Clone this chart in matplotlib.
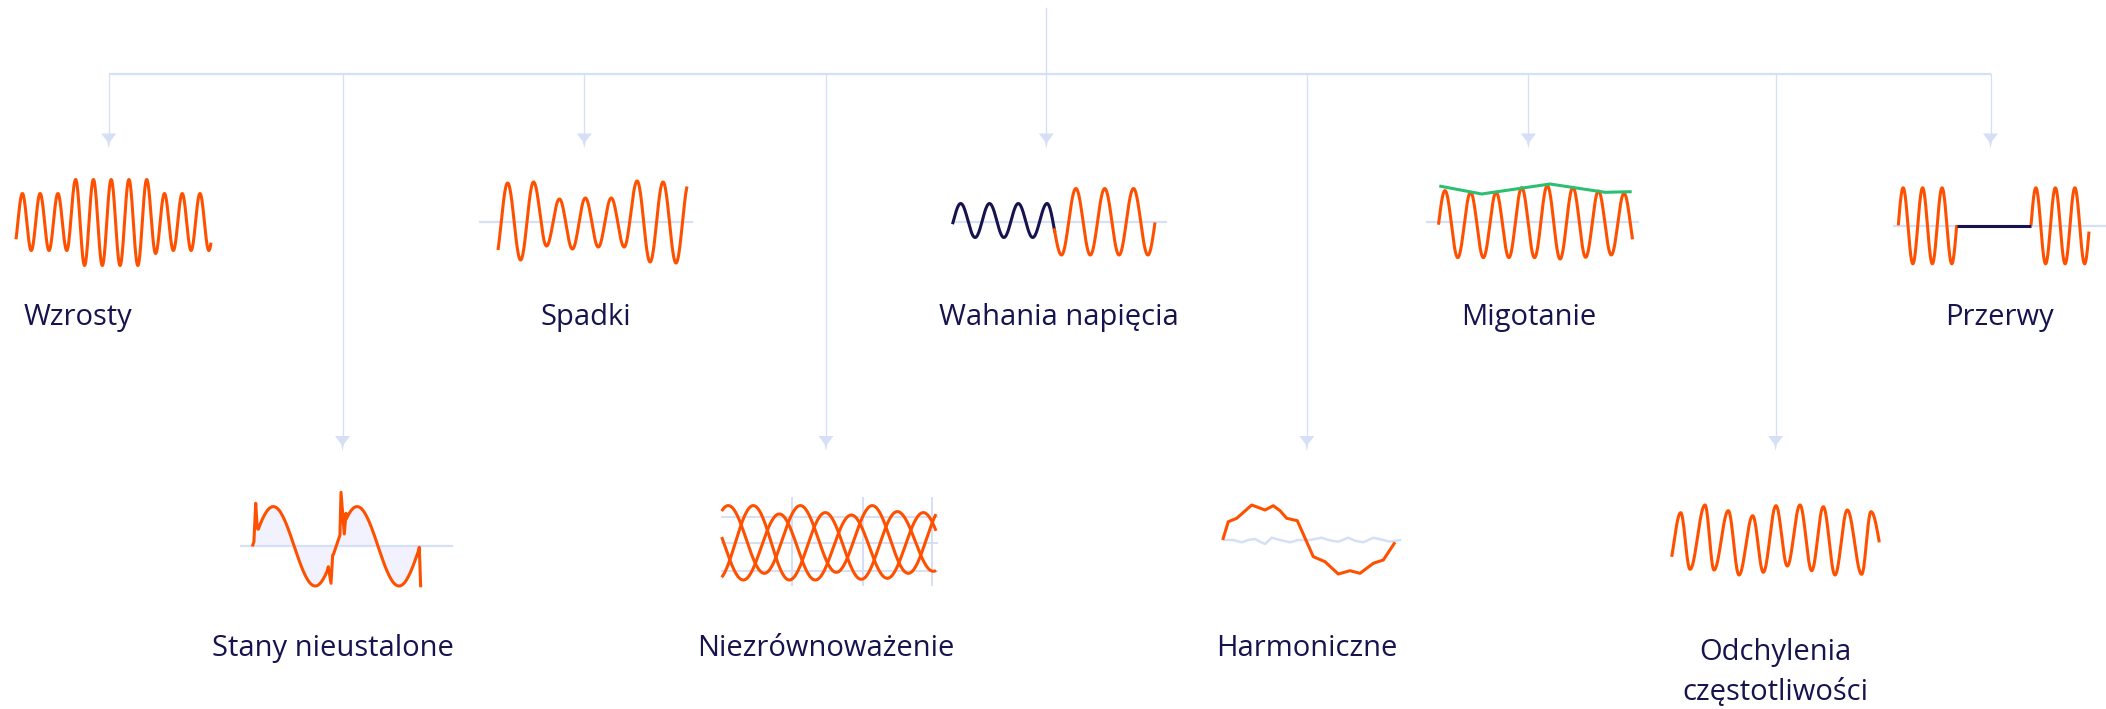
import numpy as np
import matplotlib
matplotlib.use("Agg")
import matplotlib.pyplot as plt
from matplotlib.patches import Polygon

# ---------------- colours ----------------
ORANGE = "#ff5000"
NAVY = "#16134e"
GREEN = "#2cbf72"
LINE = "#d5dff5"
FILL = "#f1f2fd"

# ---------------- labels ----------------
top_labels = ["Wzrosty", "Spadki", "Wahania napięcia", "Migotanie", "Przerwy"]
bottom_labels = ["Stany nieustalone", "Niezrównoważenie", "Harmoniczne",
                 "Odchylenia\nczęstotliwości"]

# ---------------- waveform data (successive extrema, px offset, + = up) ----
swell_ext = [-28, 28, -29, 28, -29, 28, -29, 42, -44, 42, -44, 42, -44, 42, -44,
             42, -32, 28, -29, 28, -29, 28, -29, 28]
sag_ext = [-40, 39, -38, 40, -24, 23, -27, 24, -25, 24, -25, 41, -40, 40, -41, 40]
fluct_ext = [-16, 18, -16, 18, -16, 18, -16, 18, -33.5, 33, -33.5, 33, -33.5, 33,
             -33.5, 33]
flicker_ext = [-35, 31.7, -35.3, 30, -35.3, 30, -35.3, 34.7, -35.3, 36.7, -36.7,
               35, -35, 31.3, -32.7, 29, -33]
flicker_env_t = [0.8, 43.2, 111.5, 166.5, 193.2]
flicker_env_v = [36.3, 28.3, 38.3, 30.0, 30.6]
interrupt_ext = [-38, 38, -38, 38, -38, 38, -38, 38]
transient_ext = [-39.7, 39.7, -39.7, 39.7, -39.7, 39.7]
transient_spikes_t = [[2.0, 3.4, 5.0], [76.0, 78.7, 80.4], [88.7, 92.0, 93.7],
                      [167.0, 168.4]]
transient_spikes_v = [[13.0, 43.0, 18.0], [-20.4, -37.0, -8.7], [54.0, 12.3, 33.0],
                      [-1.0, -41.0]]
unbal_a = [-30, 37.7, -30, 37.7, -29, 37.7, -30, 37.7]
unbal_b = [-36.7, 37.7, -36.7, 30.7, -36, 31.7, -28, 30]
unbal_c = [29, -36.7, 29.3, -36.7, 28.3, -35, 30.7, -35]
harm_t = [0, 5.6, 14.0, 29.0, 42.3, 50.6, 57.3, 64.0, 74.6, 90.6, 102.3, 115.6,
          127.3, 137.3, 150.6, 160.6, 172.3]
harm_v = [0, 18.3, 21.7, 35, 30, 34.3, 29.3, 21.7, 19.3, -16.7, -21.7, -34, -30.7,
          -33.3, -23.3, -20, -2.3]
noise_t = [0, 8.3, 16.7, 23.3, 30, 35, 40, 46.7, 55, 65, 73.3, 85, 96.7, 103.3,
           113.3, 123.3, 130, 138.3, 148.3, 158.3, 165, 175]
noise_v = [0, 0, -2.3, 0, 1, -1.7, -4, 2.3, 0, -2.3, 0, 0, 2.3, 0, -1.7, 2.3, -0.7,
           -2.3, 2.3, 0, -1.7, 0]
freq_t = [-4.2, 9.0, 18.3, 33.3, 42.3, 56.6, 67.3, 81.0, 91.6, 104.3, 115.6, 128.3,
          140.0, 151.6, 163.3, 175.6, 190.0, 199.3, 215.9]
freq_ext = [-30, 27.3, -29.3, 35, -30, 29.3, -35, 24.3, -32.3, 34.3, -26, 35, -30.7,
            33.3, -35, 30, -34.3, 28.3, -33]


def cos_wave(ex_x, ex_y, x0, x1, n=40):
    xs, ys = [], []
    for i in range(len(ex_x) - 1):
        t = np.linspace(0, 1, n)[:-1]
        xs.append(ex_x[i] + (ex_x[i + 1] - ex_x[i]) * t)
        ys.append((ex_y[i] + ex_y[i + 1]) / 2
                  + (ex_y[i] - ex_y[i + 1]) / 2 * np.cos(np.pi * t))
    xs.append([ex_x[-1]]); ys.append([ex_y[-1]])
    x = np.concatenate(xs); y = np.concatenate(ys)
    m = (x > x0) & (x < x1)
    xi = np.concatenate([[x0], x[m], [x1]])
    return xi, np.interp(xi, x, y)


def regular(ext, x_first, h, x0, x1):
    ex_x = x_first + h * np.arange(len(ext))
    return cos_wave(ex_x, np.asarray(ext, float), x0, x1)


fig = plt.figure(figsize=(21.06, 7.09), dpi=100)
ax = fig.add_axes([0, 0, 1, 1])
ax.set_xlim(0, 2106)
ax.set_ylim(709, 0)
ax.axis("off")

LW = 2.2
FS = 21
kw = dict(solid_capstyle="butt", solid_joinstyle="round")

# ---------------- connectors ----------------
branch_x = [108.8, 342.5, 584.3, 826, 1046.3, 1306.8, 1528.4, 1775.6, 1990.5]
ax.plot([1046.3, 1046.3], [8, 74], color=LINE, lw=1.0)
ax.plot([branch_x[0], branch_x[-1]], [74, 74], color=LINE, lw=1.6,
        solid_capstyle="butt")
for i, bx in enumerate(branch_x):
    top = i % 2 == 0
    y0 = 133.5 if top else 436.0
    ax.plot([bx, bx], [74, y0 + 1], color=LINE, lw=0.9)
    ax.add_patch(Polygon([[bx - 7.5, y0], [bx + 7.5, y0], [bx + 1.5, y0 + 8],
                          [bx, y0 + 15], [bx - 1.5, y0 + 8]], closed=True,
                         facecolor=LINE, edgecolor="none"))

# ---------------- labels ----------------
top_lx = [77.5, 585.6, 1058.4, 1528.4, 1999.9]
for lx, lab in zip(top_lx, top_labels):
    ax.text(lx, 317, lab, ha="center", va="center", fontsize=FS, color=NAVY,
            family="Open Sans")
bot_lx = [333, 826, 1306.8, 1775.6]
for lx, lab in zip(bot_lx, bottom_labels):
    lines = lab.split("\n")
    if len(lines) == 1:
        ax.text(lx, 648.7, lab, ha="center", va="center", fontsize=FS,
                color=NAVY, family="Open Sans")
    else:
        for k, ln in enumerate(lines):
            ax.text(lx, 652.7 + 40 * k, ln, ha="center", va="center",
                    fontsize=FS, color=NAVY, family="Open Sans")

# ---------------- 1. Wzrosty ----------------
x, y = regular(swell_ext, 13.5, 8.88, 16, 211)
ax.plot(x, 221.5 - y, color=ORANGE, lw=LW, **kw)

# ---------------- 2. Spadki ----------------
ax.plot([480, 692], [222, 222], color=LINE, lw=1.6)
x, y = regular(sag_ext, 494.7, 12.95, 498, 687)
ax.plot(x, 222 - y, color=ORANGE, lw=LW, **kw)

# ---------------- 3. Wahania napięcia ----------------
ax.plot([953, 1166], [221.5, 221.5], color=LINE, lw=1.6)
x, y = regular(fluct_ext, 946.3, 14.4, 952.5, 1155)
m1 = x <= 1055
ax.plot(x[m1], 221.5 - y[m1], color=NAVY, lw=LW, **kw)
m2 = x >= 1054
ax.plot(x[m2], 221.5 - y[m2], color=ORANGE, lw=LW, **kw)

# ---------------- 4. Migotanie ----------------
ax.plot([1427, 1638], [222.3, 222.3], color=LINE, lw=1.6)
x, y = regular(flicker_ext, 1432.2, 12.79, 1438.5, 1632.5)
ax.plot(x, 222.3 - y, color=ORANGE, lw=LW, **kw)
ax.plot(1438.5 + np.array(flicker_env_t), 222.3 - np.array(flicker_env_v),
        color=GREEN, lw=LW, **kw)

# ---------------- 5. Przerwy ----------------
ax.plot([1894, 2106], [225.8, 225.8], color=LINE, lw=1.6)
x, y = regular(interrupt_ext, 1893.4, 9.73, 1898.3, 1956.7)
ax.plot(x, 225.8 - y, color=ORANGE, lw=LW, **kw)
x, y = regular(interrupt_ext, 2026.1, 9.75, 2031, 2089)
ax.plot(x, 225.8 - y, color=ORANGE, lw=LW, **kw)
ax.plot([1956.7, 2031], [225.8, 225.8], color=NAVY, lw=LW, solid_capstyle="butt")

# ---------------- 6. Stany nieustalone ----------------
cy6 = 546.3
x0_6 = 252.3
bx, by = regular(transient_ext, 231.4, 41.9, x0_6, 419.3)
keep = np.ones_like(bx, bool)
px, py = [], []
for st, sv in zip(transient_spikes_t, transient_spikes_v):
    sx = x0_6 + np.array(st)
    keep &= ~((bx >= sx[0] - 0.3) & (bx <= sx[-1] + 0.3))
    px.extend(sx); py.extend(sv)
xx = np.concatenate([bx[keep], px])
yy = np.concatenate([by[keep], py])
order = np.argsort(xx, kind="stable")
xx, yy = xx[order], yy[order]
ax.fill_between(xx, cy6 - yy, cy6, color=FILL, lw=0)
ax.plot([240.7, 451.7], [cy6, cy6], color=LINE, lw=1.6)
ax.plot(xx, cy6 - yy, color=ORANGE, lw=LW, **kw)

# ---------------- 7. Niezrównoważenie ----------------
cy7 = 543.3
for gy in [517.3, 543.3, 570.7]:
    ax.plot([721.7, 936.7], [gy, gy], color=LINE, lw=1.4)
for gx in [791.7, 863.3, 932.3]:
    ax.plot([gx, gx], [498, 585], color=LINE, lw=1.4)
for ext, xf in [(unbal_a, 692.3), (unbal_b, 717.3), (unbal_c, 707.3)]:
    x, y = regular(ext, xf, 36, 721.7, 936)
    ax.plot(x, cy7 - y, color=ORANGE, lw=LW, **kw)

# ---------------- 8. Harmoniczne ----------------
cy8 = 540
ax.plot(1225 + np.array(noise_t), cy8 - np.array(noise_v), color=LINE, lw=1.8,
        solid_joinstyle="round")
ax.plot(1222.7 + np.array(harm_t), cy8 - np.array(harm_v), color=ORANGE, lw=LW,
        **kw)

# ---------------- 9. Odchylenia częstotliwości ----------------
cy9 = 540
x, y = cos_wave(1671.7 + np.array(freq_t), np.array(freq_ext, float), 1671.7,
                1879.3)
ax.plot(x, cy9 - y, color=ORANGE, lw=LW, **kw)

fig.savefig("out.png", dpi=100, facecolor="white")
